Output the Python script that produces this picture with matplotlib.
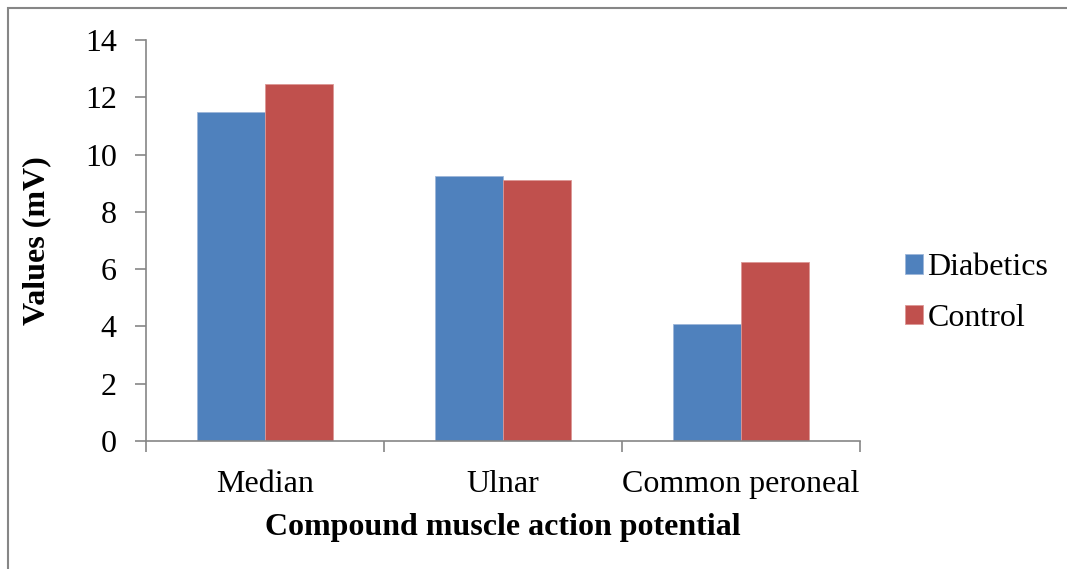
import numpy as np
import matplotlib.pyplot as plt
from matplotlib.patches import Rectangle

categories = ['Median', 'Ulnar', 'Common peroneal']
diabetics = [11.5, 9.25, 4.1]
control = [12.45, 9.1, 6.25]

plt.rcParams['font.family'] = ['Liberation Serif', 'DejaVu Serif']

blue = '#4f81bd'
red = '#c0504d'
grey = '#868686'

fig = plt.figure(figsize=(10.67, 5.69), dpi=100)
ax = fig.add_axes([146/1067, 1 - 441/569, (860 - 146)/1067, (441 - 40)/569])

x = np.arange(len(categories))
w = 1 / 3.5
ax.bar(x - w/2, diabetics, w, color=blue, edgecolor='#9db6d9', linewidth=0.6, label='Diabetics')
ax.bar(x + w/2, control, w, color=red, edgecolor='#dc9795', linewidth=0.6, label='Control')

ax.set_xlim(-0.5, len(categories) - 0.5)
ax.set_ylim(0, 14)
ax.set_yticks(range(0, 15, 2))
ax.set_xticks(x)
ax.set_xticklabels(categories)
ax.set_xticks(np.arange(-0.5, len(categories)), minor=True)
ax.tick_params(axis='x', which='major', length=0, pad=21, labelsize=23)
ax.tick_params(axis='x', which='minor', length=8, color=grey, width=1.2)
ax.tick_params(axis='y', length=8, color=grey, width=1.2, labelsize=23, pad=13)

for s in ['top', 'right']:
    ax.spines[s].set_visible(False)
for s in ['left', 'bottom']:
    ax.spines[s].set_color(grey)
    ax.spines[s].set_linewidth(1.2)

ax.set_ylabel('Values (mV)', fontsize=23, fontweight='bold', labelpad=24)
ax.set_xlabel('Compound muscle action potential', fontsize=23, fontweight='bold', labelpad=10)

ax.legend(loc='center left', bbox_to_anchor=(905/1067, 1 - 293/569),
          bbox_transform=fig.transFigure, frameon=False, fontsize=23,
          handlelength=0.55, handleheight=0.55, handletextpad=0.15,
          labelspacing=0.67, borderaxespad=0, borderpad=0)

# outer chart border
fig.patches.append(Rectangle((8/1067, -0.1), 1.2, 1 - 8/569 + 0.1,
                             transform=fig.transFigure, fill=False,
                             edgecolor=grey, linewidth=1.5))

fig.savefig('out.png', dpi=100)
